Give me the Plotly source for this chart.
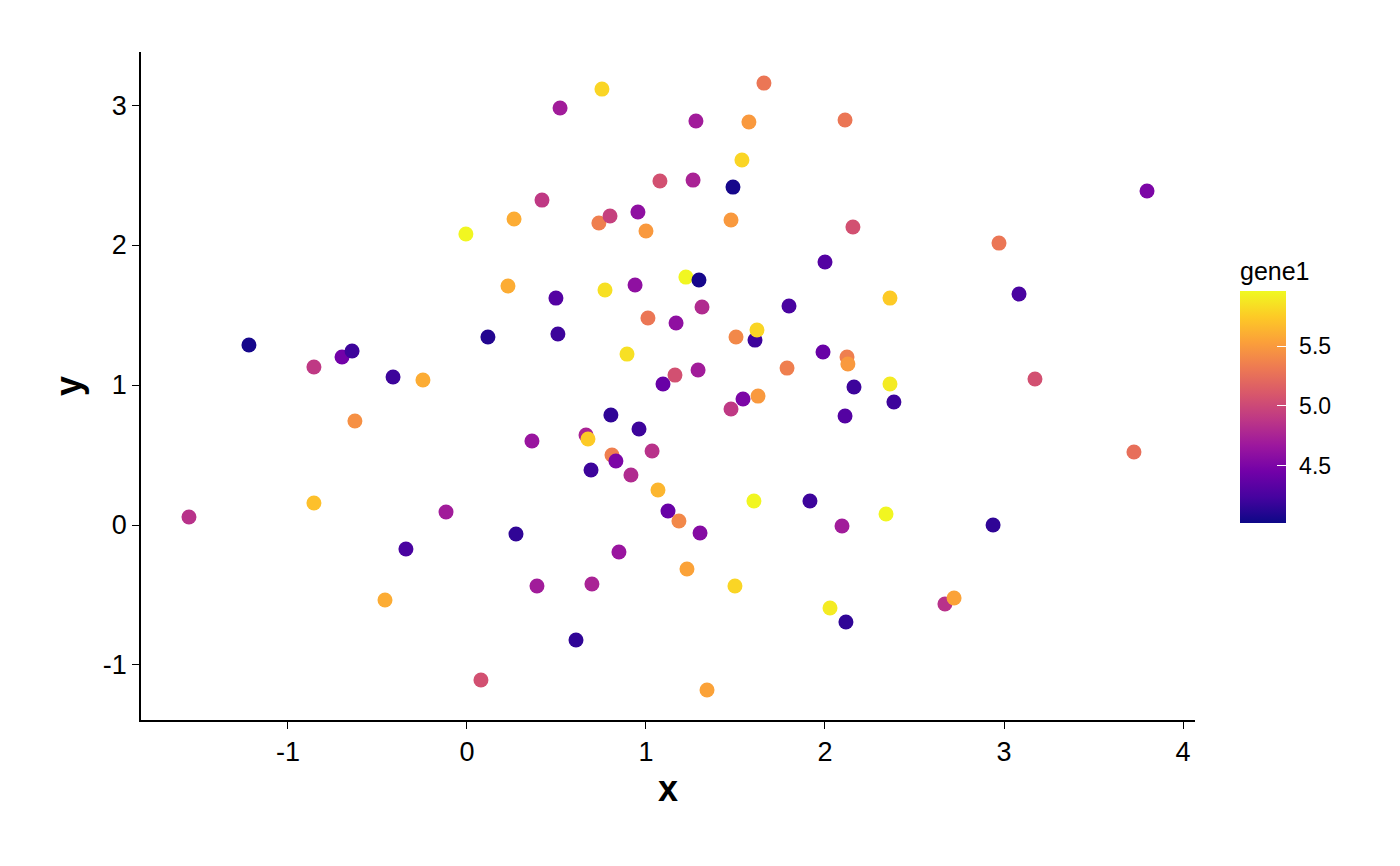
import plotly.graph_objects as go

x = [-1.553, -1.218, -0.855, -0.855, -0.698, -0.642, -0.626, -0.413, -0.246, -0.341,
     -0.458, -0.117, -0.006, 0.078, 0.117, 0.229, 0.263, 0.274, 0.363, 0.391,
     0.419, 0.497, 0.508, 0.520, 0.609, 0.665, 0.676, 0.693, 0.698, 0.737,
     0.754, 0.771, 0.799, 0.804, 0.810, 0.849, 0.894, 0.916, 0.939, 0.955,
     0.961, 1.000, 1.011, 1.034, 1.067, 1.078, 1.095, 1.123, 1.162, 1.168,
     1.184, 1.223, 1.229, 1.263, 1.279, 1.291, 1.296, 1.302, 1.313, 1.341,
     1.475, 1.475, 1.486, 1.497, 1.503, 1.536, 1.542, 1.575, 1.603, 1.609,
     1.620, 1.626, 1.659, 1.788, 1.799, 1.916, 1.989, 2.000, 2.028, 2.095,
     2.112, 2.112, 2.117, 2.123, 2.128, 2.156, 2.162, 2.341, 2.363, 2.363,
     2.385, 2.670, 2.721, 2.939, 2.972, 3.084, 3.173, 3.726, 3.799, 0.832]
y = [0.057, 1.286, 1.129, 0.157, 1.200, 1.243, 0.743, 1.057, 1.036, -0.171,
     -0.536, 0.093, 2.079, -1.107, 1.343, 1.707, 2.186, -0.064, 0.600, -0.436,
     2.321, 1.621, 1.364, 2.979, -0.821, 0.643, 0.614, 0.393, -0.421, 2.157,
     3.114, 1.679, 2.207, 0.786, 0.500, -0.193, 1.221, 0.357, 1.714, 2.236,
     0.686, 2.100, 1.479, 0.529, 0.250, 2.457, 1.007, 0.100, 1.071, 1.443,
     0.029, 1.771, -0.314, 2.464, 2.886, 1.107, 1.750, -0.057, 1.557, -1.179,
     0.829, 2.179, 2.414, -0.436, 1.343, 2.607, 0.900, 2.879, 0.171, 1.321,
     1.393, 0.921, 3.157, 1.121, 1.564, 0.171, 1.236, 1.879, -0.593, -0.007,
     2.893, 0.779, -0.693, 1.200, 1.150, 2.129, 0.986, 0.079, 1.621, 1.007,
     0.879, -0.564, -0.521, 0.000, 2.014, 1.650, 1.043, 0.521, 2.386, 0.457]
gene1 = [4.85, 4.05, 4.90, 5.70, 4.45, 4.20, 5.45, 4.20, 5.60, 4.25,
         5.60, 4.70, 5.95, 5.05, 4.10, 5.60, 5.60, 4.15, 4.65, 4.70,
         4.90, 4.30, 4.20, 4.70, 4.15, 4.75, 5.75, 4.20, 4.75, 5.35,
         5.80, 5.85, 4.95, 4.15, 5.35, 4.65, 5.85, 4.80, 4.60, 4.60,
         4.20, 5.50, 5.30, 4.85, 5.65, 5.05, 4.40, 4.40, 5.05, 4.60,
         5.40, 5.95, 5.55, 4.75, 4.70, 4.70, 4.05, 4.55, 4.80, 5.55,
         4.90, 5.50, 4.05, 5.80, 5.40, 5.80, 4.50, 5.50, 5.95, 4.20,
         5.80, 5.50, 5.30, 5.35, 4.25, 4.20, 4.40, 4.30, 5.90, 4.70,
         5.30, 4.30, 4.15, 5.35, 5.50, 5.05, 4.20, 5.95, 5.75, 5.90,
         4.20, 4.85, 5.55, 4.15, 5.30, 4.25, 5.05, 5.25, 4.50, 4.50]

cmin_val, cmax_val = 4.017, 5.966
x_ticks = [-1, 0, 1, 2, 3, 4]
y_ticks = [-1, 0, 1, 2, 3]
cbar_ticks = [4.5, 5.0, 5.5]
cbar_labels = ["4.5", "5.0", "5.5"]

font_family = "Liberation Sans, Arial, Helvetica, sans-serif"

cbar_geom = dict(
    x=1.0427, xanchor="left", y=0.295, yanchor="bottom",
    thickness=46, len=265, lenmode="pixels",
    outlinewidth=0, xpad=0, ypad=0,
    tickvals=cbar_ticks, ticktext=cbar_labels,
)

fig = go.Figure()
# main points + colorbar with labels
fig.add_trace(go.Scatter(
    x=x, y=y, mode="markers",
    marker=dict(
        size=15, color=gene1, colorscale="Plasma", cmin=cmin_val, cmax=cmax_val,
        line=dict(width=0), opacity=1,
        colorbar=dict(
            title=dict(text="gene1", side="top", font=dict(size=25, color="black")),
            ticks="outside", ticklen=9, tickcolor="rgba(0,0,0,0)",
            tickfont=dict(size=23, color="black"),
            **cbar_geom,
        ),
    ),
    showlegend=False, hoverinfo="x+y",
))
# overlay colorbar: white inside tick marks only
fig.add_trace(go.Scatter(
    x=[None], y=[None], mode="markers",
    marker=dict(
        size=1, color=[cmin_val], colorscale="Plasma", cmin=cmin_val, cmax=cmax_val,
        showscale=True,
        colorbar=dict(
            title=dict(text="gene1", side="top", font=dict(size=25, color="rgba(0,0,0,0)")),
            ticks="inside", ticklen=9, tickcolor="white", tickwidth=1.3,
            showticklabels=False,
            **cbar_geom,
        ),
    ),
    showlegend=False, hoverinfo="skip",
))

axis_common = dict(
    showline=True, linecolor="black", linewidth=1.6, mirror=False,
    showgrid=False, zeroline=False,
    ticks="outside", ticklen=7, tickwidth=1.4, tickcolor="black",
    tickfont=dict(size=27, color="black"),
)

fig.update_xaxes(range=[-1.821, 4.067], tickvals=x_ticks,
                 ticktext=[str(v) for v in x_ticks],
                 title=dict(text="<b>x</b>", font=dict(size=36, color="black"), standoff=10),
                 **axis_common)
fig.update_yaxes(range=[-1.393, 3.379], tickvals=y_ticks,
                 ticktext=[str(v) for v in y_ticks],
                 title=dict(text="<b>y</b>", font=dict(size=36, color="black"), standoff=10),
                 **axis_common)

fig.update_layout(
    width=1400, height=866,
    margin=dict(l=141, r=205, t=52, b=146),
    plot_bgcolor="white", paper_bgcolor="white",
    font=dict(family=font_family, color="black"),
)

fig.write_html("out.html", post_script="document.body.style.margin='0';",
               config={"displayModeBar": False})
